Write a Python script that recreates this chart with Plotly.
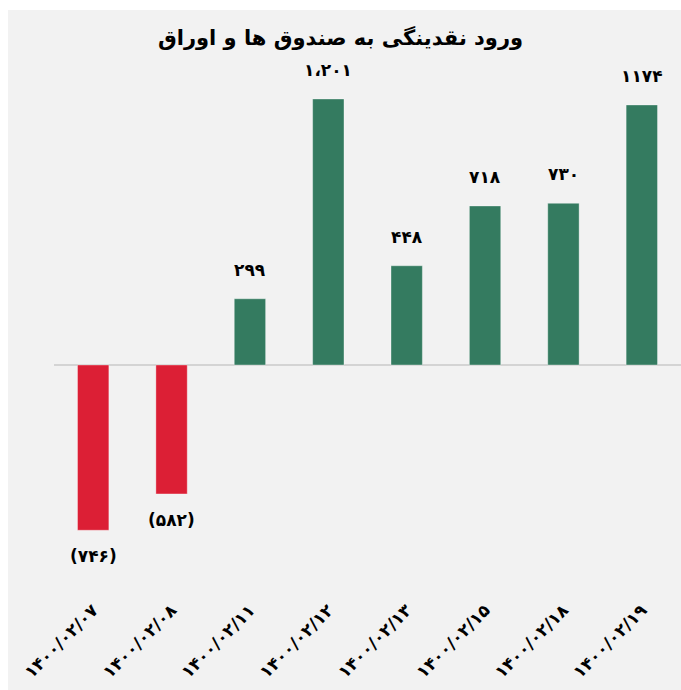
import plotly.graph_objects as go

categories = ["۱۴۰۰/۰۲/۰۷", "۱۴۰۰/۰۲/۰۸", "۱۴۰۰/۰۲/۱۱", "۱۴۰۰/۰۲/۱۲",
              "۱۴۰۰/۰۲/۱۳", "۱۴۰۰/۰۲/۱۵", "۱۴۰۰/۰۲/۱۸", "۱۴۰۰/۰۲/۱۹"]
values = [-746, -582, 299, 1201, 448, 718, 730, 1174]
labels = ["(۷۴۶)", "(۵۸۲)", "۲۹۹", "۱،۲۰۱", "۴۴۸", "۷۱۸", "۷۳۰", "۱۱۷۴"]
title = "ورود نقدینگی به صندوق ها و اوراق"

GREEN = "#347b60"
RED = "#dc1f35"
colors = [GREEN if v >= 0 else RED for v in values]

W, H = 681, 690
ML, MR, MT, MB = 54, 0, 75, 110
plot_h = H - MT - MB
plot_w = W - ML - MR

fig = go.Figure()
fig.add_trace(go.Bar(
    x=categories, y=values,
    marker=dict(color=colors, line=dict(color="rgba(255,255,255,0.35)", width=1)),
    hoverinfo="skip",
))

for c, v, t in zip(categories, values, labels):
    fig.add_annotation(
        x=c, y=v, text="<b>" + t + "</b>", showarrow=False,
        yanchor="bottom" if v >= 0 else "top",
        yshift=17 if v >= 0 else -14,
        font=dict(family="DejaVu Sans", size=17, color="black"),
    )

fig.add_shape(
    type="rect", xref="paper", yref="paper", layer="below",
    x0=(8 - ML) / plot_w, x1=1.01,
    y0=(H - MB - H) / plot_h - 0.01, y1=(H - MB - 10) / plot_h,
    fillcolor="#f2f2f2", line=dict(width=0),
)

fig.update_layout(
    width=W, height=H,
    margin=dict(l=ML, r=MR, t=MT, b=MB),
    paper_bgcolor="white",
    plot_bgcolor="#f2f2f2",
    bargap=0.6,
    showlegend=False,
    title=dict(text="<b>" + title + "</b>", x=0.5, xref="container", xanchor="center",
               y=1 - 38 / H, yanchor="middle",
               font=dict(family="DejaVu Sans", size=21, color="black")),
    xaxis=dict(tickangle=-45, showgrid=False, showline=False, ticks="",
               ticklabelstandoff=16,
               tickfont=dict(family="DejaVu Sans", size=17, color="black",
                             weight="bold")),
    yaxis=dict(range=[-(H - MB - 365) / 0.2215, (365 - MT) / 0.2215],
               showgrid=False, showticklabels=False, ticks="", showline=False,
               zeroline=True, zerolinecolor="#d4d4d4", zerolinewidth=2),
)

fig.write_html("out.html")
